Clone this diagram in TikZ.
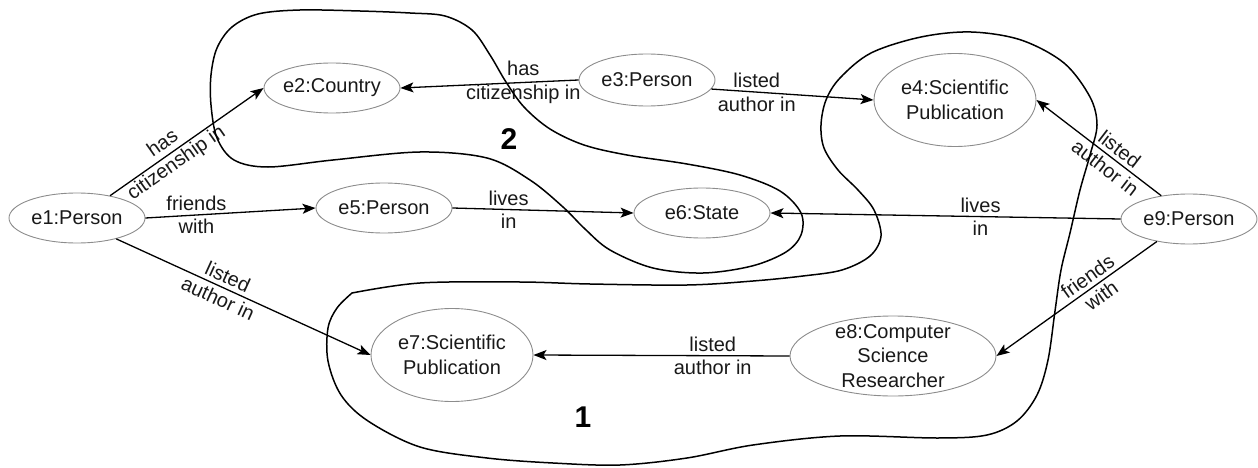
\documentclass[tikz,border=0pt]{standalone}
\usepackage{fontspec}
\setmainfont{Liberation Sans}
\usetikzlibrary{shapes.geometric,arrows.meta}
\begin{document}
\begin{tikzpicture}[x=1pt,y=-1pt,
  ent/.style={ellipse, draw=black!45, line width=0.9pt, inner sep=0pt},
  lbl/.style={font=\fontsize{20}{24.5}\selectfont, text=black!90, align=center, inner sep=0pt},
  arr/.style={line width=1.3pt, -{Stealth[length=13pt,width=10pt,inset=3pt]}},
  el/.style={font=\fontsize{20}{23.5}\selectfont, text=black!90, align=center, inner sep=0pt},
  blob/.style={line width=1.5pt, line join=round},
  num/.style={font=\fontsize{30}{30}\bfseries\selectfont, inner sep=0pt}
]
\useasboundingbox (0,0) rectangle (1258,468);

% entity nodes
\node[ent, minimum width=136, minimum height=50, label={[lbl]center:{e1:Person}}] (e1) at (77,218) {};
\node[ent, minimum width=136, minimum height=50, label={[lbl]center:{e2:Country}}] (e2) at (332,88) {};
\node[ent, minimum width=136, minimum height=52, label={[lbl]center:{e3:Person}}] (e3) at (647,80) {};
\node[ent, minimum width=162, minimum height=93, label={[lbl]center:{e4:Scientific\\Publication}}] (e4) at (955,100) {};
\node[ent, minimum width=136, minimum height=50, label={[lbl]center:{e5:Person}}] (e5) at (384,208) {};
\node[ent, minimum width=136, minimum height=50, label={[lbl]center:{e6:State}}] (e6) at (702,213) {};
\node[ent, minimum width=162, minimum height=93, label={[lbl]center:{e7:Scientific\\Publication}}] (e7) at (452,355) {};
\node[ent, minimum width=206, minimum height=80, label={[lbl]center:{e8:Computer\\Science\\Researcher}}] (e8) at (893,356) {};
\node[ent, minimum width=136, minimum height=50, label={[lbl]center:{e9:Person}}] (e9) at (1189,219) {};

% connectors
\draw[arr] (e1.34) -- node[el, sloped, pos=0.39] {has\\citizenship in} (e2.west);
\draw[arr] (e1.east) -- node[el, pos=0.30] {friends\\with} (e5.west);
\draw[arr] (e1.-28) -- node[el, sloped, pos=0.42] {listed\\author in} (e7.west);
\draw[arr] (e3.west) -- node[el, pos=0.31] {has\\citizenship in} (e2.east);
\draw[arr] (e3.-8) -- node[el, pos=0.28] {listed\\author in} (e4.west);
\draw[arr] (e5.east) -- node[el, pos=0.31] {lives\\in} (e6.west);
\draw[arr] (e9.west) -- node[el, pos=0.40] {lives\\in} (e6.east);
\draw[arr] (e9.140) -- node[el, sloped, pos=0.39] {listed\\author in} (e4.east);
\draw[arr] (e9.215) -- node[el, sloped, pos=0.39] {friends\\with} (e8.east);
\draw[arr] (e8.west) -- node[el, pos=0.30] {listed\\author in} (e7.east);

% cluster numbers
\node[num] (n2) at (509,139) {2};
\node[num] (n1) at (583,417) {1};

% cluster 2 outline
\draw[blob] plot[smooth cycle, tension=0.55] coordinates {
 (300,10) (360,11) (410,13) (445,16) (472,30) (490,55) (506,82) (524,107)
 (550,129) (584,145) (627,155) (687,164) (740,175) (780,191) (801,213)
 (801,235) (786,252) (752,266) (703,273) (653,268) (610,250) (585,229)
 (563,207) (530,180) (487,158) (420,152) (333,160) (268,167) (234,160)
 (217,138) (211,105) (211,75) (217,48) (232,27) (258,14)};

% cluster 1 outline (with a corner at its upper-left)
\draw[blob] plot[smooth, tension=0.55] coordinates {
 (352,293) (420,283) (520,282) (590,284) (687,285) (753,281) (803,276)
 (842,270) (870,256) (881,236) (874,210) (858,190) (838,170) (824,148)
 (821,125) (826,100) (840,78) (871,53) (921,37) (971,32) (1021,40)
 (1064,63) (1090,97) (1097,125) (1090,155) (1080,190) (1070,233)
 (1061,270) (1055,311) (1048,360) (1037,395) (1017,421) (987,435)
 (938,438) (840,436) (753,445) (687,458) (620,465) (553,463) (487,458)
 (420,447) (368,421) (341,395) (328,361) (328,328) (337,308) (352,293)};
\end{tikzpicture}
\end{document}
